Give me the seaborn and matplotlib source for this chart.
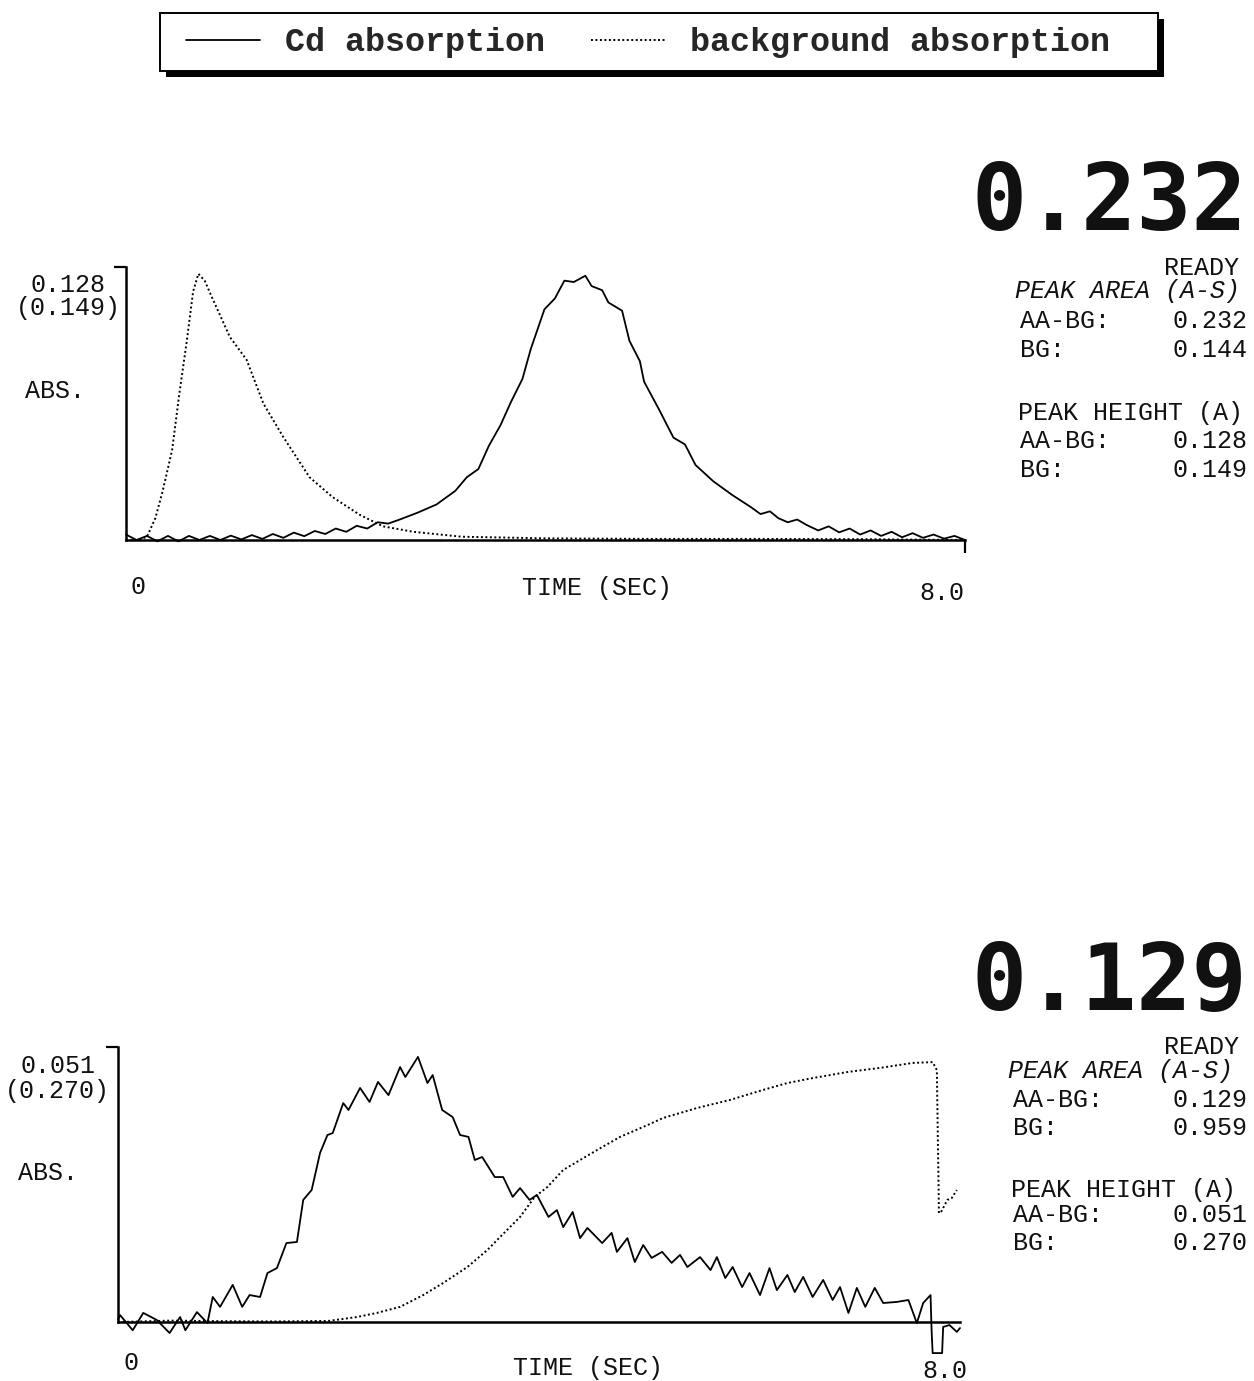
import matplotlib
matplotlib.use("Agg")
import matplotlib.pyplot as plt
from matplotlib.patches import Rectangle
import pandas as pd
import seaborn as sns

# ---------------------------------------------------------------------------
# Atomic-absorption transients (fraction of full scale) versus time in seconds
# ---------------------------------------------------------------------------
# Run 1 : Cd absorption
cd1_t = [0.0, 0.1, 0.2, 0.3, 0.4, 0.5, 0.6, 0.7, 0.8, 0.9,
         1.0, 1.1, 1.2, 1.3, 1.4, 1.5, 1.6, 1.7, 1.8, 1.9,
         2.0, 2.1, 2.2, 2.3, 2.4, 2.5, 2.61, 2.78, 2.96, 3.14,
         3.25, 3.36, 3.46, 3.57, 3.67, 3.78, 3.86, 3.99, 4.09, 4.18,
         4.27, 4.38, 4.44, 4.54, 4.60, 4.73, 4.80, 4.90, 4.94, 5.08,
         5.22, 5.33, 5.43, 5.60, 5.78, 5.96, 6.05, 6.14, 6.22, 6.31,
         6.40, 6.49, 6.6, 6.7, 6.8, 6.9, 7.0, 7.1, 7.2, 7.3,
         7.4, 7.5, 7.6, 7.7, 7.8, 7.9, 8.0]
cd1_f = [0.02, 0.0, 0.015, -0.005, 0.015, -0.005, 0.015, 0.0, 0.015, 0.0,
         0.016, 0.002, 0.018, 0.004, 0.022, 0.008, 0.027, 0.014, 0.033, 0.022,
         0.042, 0.03, 0.052, 0.042, 0.065, 0.06, 0.075, 0.10, 0.13, 0.18,
         0.23, 0.26, 0.345, 0.42, 0.505, 0.59, 0.70, 0.845, 0.885, 0.95,
         0.945, 0.968, 0.93, 0.915, 0.87, 0.84, 0.73, 0.655, 0.58, 0.48,
         0.375, 0.35, 0.275, 0.215, 0.165, 0.12, 0.095, 0.105, 0.08, 0.065,
         0.075, 0.055, 0.035, 0.05, 0.028, 0.042, 0.02, 0.035, 0.015, 0.03,
         0.01, 0.025, 0.008, 0.02, 0.005, 0.015, 0.0]

# Run 1 : background absorption
bg1_t = [0.0, 0.12, 0.20, 0.28, 0.35, 0.44, 0.51, 0.58, 0.64, 0.69,
         0.75, 0.83, 0.99, 1.15, 1.31, 1.50, 1.75, 1.97, 2.23, 2.45,
         2.74, 3.2, 4.0, 5.0, 6.0, 7.0, 8.0]
bg1_f = [0.0, 0.0, 0.012, 0.08, 0.18, 0.33, 0.54, 0.73, 0.91, 0.975,
         0.95, 0.88, 0.744, 0.66, 0.50, 0.377, 0.23, 0.157, 0.092, 0.05,
         0.03, 0.012, 0.006, 0.004, 0.004, 0.003, 0.0]

# Run 2 : Cd absorption
cd2_t = [0.0, 0.02, 0.14, 0.24, 0.37, 0.49, 0.59, 0.64, 0.75, 0.85,
         0.90, 0.97, 1.09, 1.18, 1.25, 1.35, 1.42, 1.51, 1.60, 1.70,
         1.76, 1.84, 1.92, 1.99, 2.04, 2.14, 2.19, 2.30, 2.39, 2.47,
         2.57, 2.68, 2.73, 2.85, 2.94, 2.99, 3.08, 3.18, 3.25, 3.33,
         3.39, 3.46, 3.58, 3.66, 3.75, 3.82, 3.91, 3.98, 4.09, 4.17,
         4.23, 4.32, 4.39, 4.46, 4.60, 4.69, 4.74, 4.84, 4.91, 4.99,
         5.07, 5.17, 5.26, 5.34, 5.41, 5.53, 5.63, 5.69, 5.77, 5.84,
         5.93, 6.00, 6.10, 6.19, 6.26, 6.36, 6.43, 6.51, 6.60, 6.70,
         6.79, 6.86, 6.94, 7.02, 7.10, 7.19, 7.27, 7.40, 7.51, 7.59,
         7.65, 7.72, 7.73, 7.74, 7.83, 7.84, 7.90, 7.97, 8.00]
cd2_f = [0.01, 0.025, -0.03, 0.033, 0.007, -0.04, 0.018, -0.03, 0.036, -0.004,
         0.091, 0.055, 0.135, 0.055, 0.098, 0.091, 0.178, 0.196, 0.287, 0.291,
         0.444, 0.48, 0.615, 0.68, 0.687, 0.796, 0.771, 0.851, 0.80, 0.873,
         0.825, 0.927, 0.891, 0.964, 0.869, 0.898, 0.771, 0.745, 0.68, 0.673,
         0.589, 0.60, 0.527, 0.527, 0.455, 0.487, 0.444, 0.462, 0.382, 0.407,
         0.345, 0.40, 0.305, 0.342, 0.287, 0.324, 0.255, 0.305, 0.218, 0.28,
         0.233, 0.255, 0.215, 0.244, 0.20, 0.236, 0.189, 0.236, 0.16, 0.20,
         0.127, 0.178, 0.098, 0.196, 0.116, 0.171, 0.109, 0.164, 0.091, 0.153,
         0.08, 0.127, 0.033, 0.124, 0.055, 0.124, 0.069, 0.073, 0.08, -0.004,
         0.069, 0.098, -0.029, -0.113, -0.113, -0.018, -0.011, -0.036, -0.022]

# Run 2 : background absorption
bg2_t = [0.0, 0.5, 1.0, 1.5, 2.0, 2.27, 2.46, 2.68, 2.90, 3.09,
         3.32, 3.51, 3.63, 3.82, 3.96, 4.08, 4.23, 4.39, 4.55, 4.77,
         5.03, 5.18, 5.50, 5.81, 6.13, 6.36, 6.60, 6.93, 7.24, 7.55,
         7.74, 7.78, 7.80, 7.82, 7.88, 7.92, 7.97]
bg2_f = [0.0, 0.005, 0.003, 0.002, 0.004, 0.018, 0.033, 0.055, 0.098, 0.142,
         0.20, 0.262, 0.309, 0.382, 0.455, 0.491, 0.553, 0.589, 0.625, 0.673,
         0.716, 0.742, 0.778, 0.807, 0.844, 0.869, 0.887, 0.909, 0.924, 0.942,
         0.945, 0.916, 0.396, 0.40, 0.444, 0.45, 0.48]

# Instrument read-outs for both runs
big_readout = ["0.232", "0.129"]
area_aa = ["0.232", "0.129"]
area_bg = ["0.144", "0.959"]
height_aa = ["0.128", "0.051"]
height_bg = ["0.149", "0.270"]
legend_labels = ["Cd absorption", "background absorption"]

W, H = 1254, 1381
DOTTED = (0, (1, 1.3))
SMALL = 18

sns.set_theme(style="white")
plt.rcParams["font.family"] = ["Liberation Mono", "DejaVu Sans Mono"]

fig = plt.figure(figsize=(W / 100, H / 100), dpi=100)
fig.patch.set_facecolor("white")


def fx(px):
    return px / W


def fy(py):
    return 1 - py / H


def make_axes(left, right, y_top, y_zero, ymin):
    unit = y_zero - y_top
    bottom = y_zero - ymin * unit
    ax = fig.add_axes([fx(left), fy(bottom), (right - left) / W, (bottom - y_top) / H])
    ax.set_xlim(0, 8)
    ax.set_ylim(ymin, 1.0)
    return ax


def style_axes(ax, xtick=True):
    ax.set_facecolor("none")
    for s in ("top", "right"):
        ax.spines[s].set_visible(False)
    ax.spines["left"].set_bounds(0, 1)
    ax.spines["bottom"].set_position(("data", 0))
    ax.spines["bottom"].set_bounds(0, 8)
    for s in ("left", "bottom"):
        ax.spines[s].set_color("black")
        ax.spines[s].set_linewidth(1.8)
    ax.set_xticks([8] if xtick else [])
    ax.set_xticklabels([])
    ax.set_yticks([1])
    ax.set_yticklabels([])
    ax.tick_params(axis="both", direction="out", length=9, width=1.6,
                   color="black", bottom=xtick, left=True)
    ax.set_xlabel("")
    ax.set_ylabel("")


def draw_trace(ax, t, f, dotted=False):
    df = pd.DataFrame({"time": t, "abs": f})
    sns.lineplot(data=df, x="time", y="abs", ax=ax, color="black",
                 linewidth=1.4 if dotted else 1.3, estimator=None, sort=False,
                 legend=False)
    line = ax.lines[-1]
    line.set_clip_on(False)
    if dotted:
        line.set_linestyle(DOTTED)
    return line


def text(x, y, s, ha="left", size=SMALL, **kw):
    fig.text(fx(x), fy(y), s, ha=ha, va="baseline", fontsize=size,
             color="#111111", **kw)


def readout_panel(i, y_big, right, x_left, ys):
    fig.text(fx(right), fy(y_big), big_readout[i], ha="right", va="baseline",
             fontsize=66, family="DejaVu Sans Mono", weight="bold", color="#111111")
    text(right - 8, ys[0], "READY", ha="right")
    text(x_left - 5, ys[1], "PEAK AREA (A-S)", style="italic")
    text(x_left, ys[2], "AA-BG:")
    text(right, ys[2], area_aa[i], ha="right")
    text(x_left, ys[3], "BG:")
    text(right, ys[3], area_bg[i], ha="right")
    text(x_left - 2, ys[4], "PEAK HEIGHT (A)")
    text(x_left, ys[5], "AA-BG:")
    text(right, ys[5], height_aa[i], ha="right")
    text(x_left, ys[6], "BG:")
    text(right, ys[6], height_bg[i], ha="right")


# ---- Run 1 ---------------------------------------------------------------
ax1 = make_axes(126, 965, 267, 540, -0.12)
cd_line = draw_trace(ax1, cd1_t, cd1_f)
bg_line = draw_trace(ax1, bg1_t, bg1_f, dotted=True)
style_axes(ax1)

text(68, 292, height_aa[0], ha="center")
text(68, 315, f"({height_bg[0]})", ha="center")
text(25, 398, "ABS.")
text(138, 594, "0", ha="center")
text(597, 595, "TIME (SEC)", ha="center")
text(942, 600, "8.0", ha="center")
readout_panel(0, 230, 1247, 1020, [275, 298, 328, 357, 420, 448, 477])

# ---- Run 2 ---------------------------------------------------------------
ax2 = make_axes(118, 960, 1047, 1322, -0.15)
draw_trace(ax2, cd2_t, cd2_f)
draw_trace(ax2, bg2_t, bg2_f, dotted=True)
style_axes(ax2, xtick=False)

text(58, 1073, height_aa[1], ha="center")
text(57, 1098, f"({height_bg[1]})", ha="center")
text(18, 1180, "ABS.")
text(131, 1370, "0", ha="center")
text(588, 1375, "TIME (SEC)", ha="center")
text(945, 1378, "8.0", ha="center")
readout_panel(1, 1010, 1247, 1013, [1054, 1078, 1107, 1135, 1197, 1222, 1250])

# ---- Legend box with a hard drop shadow ------------------------------------
fig.add_artist(Rectangle((fx(166), fy(77)), 998 / W, 58 / H, transform=fig.transFigure,
                         facecolor="black", edgecolor="none", zorder=1))
fig.add_artist(Rectangle((fx(160), fy(71)), 998 / W, 58 / H, transform=fig.transFigure,
                         facecolor="white", edgecolor="black", linewidth=1.4, zorder=2))
fig.legend(handles=[cd_line, bg_line], labels=legend_labels, loc="center",
           bbox_to_anchor=(fx(648), fy(43)), ncol=2, frameon=False,
           prop=dict(family="Liberation Mono", weight="bold", size=24),
           handlelength=2.2, handletextpad=0.75, columnspacing=1.4)

fig.savefig("out.png", dpi=100, facecolor="white")
